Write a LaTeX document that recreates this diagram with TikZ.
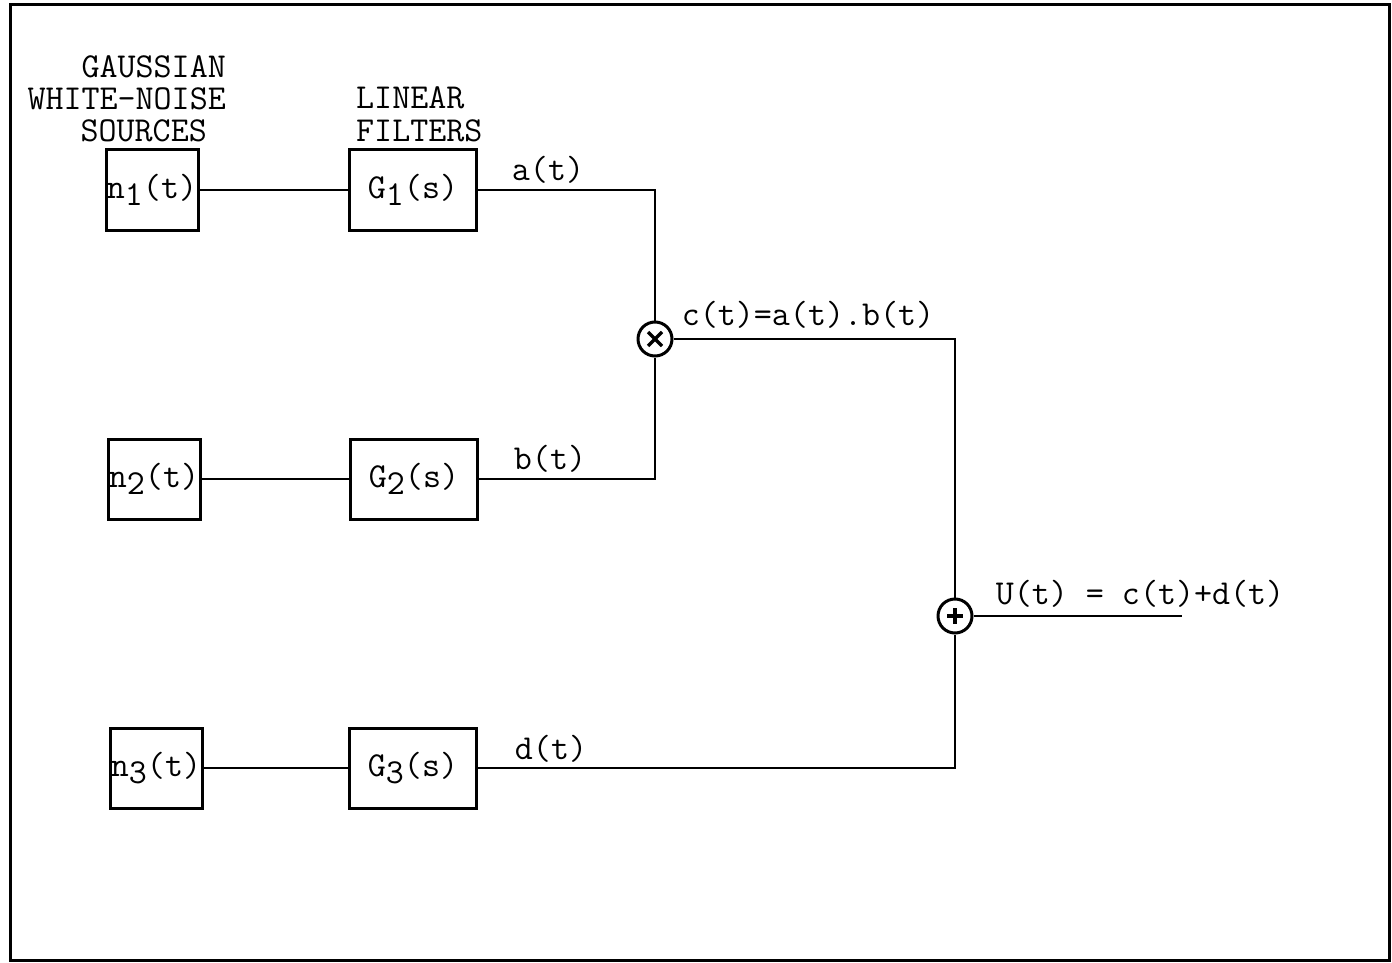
\documentclass[tikz,border=0pt]{standalone}
\usetikzlibrary{calc}
\begin{document}
\begin{tikzpicture}[x=1pt,y=-1pt,
  txt/.style={font=\ttfamily\fontsize{35}{40}\selectfont, inner sep=0pt},
  head/.style={txt, text height=21pt, text depth=0pt},
  blk/.style={draw, line width=3pt, minimum width=#1, inner sep=0pt},
  src/.style={blk=92pt, minimum height=80pt, font=\ttfamily\fontsize{35}{40}\selectfont},
  flt/.style={blk=127pt, minimum height=80pt, font=\ttfamily\fontsize{35}{40}\selectfont},
  wire/.style={line width=2.8pt},
  junc/.style={draw, circle, line width=3pt, minimum size=34pt, inner sep=0pt}]
\newcommand{\lowd}[1]{\raisebox{-0.45ex}{#1}}
\useasboundingbox (0,0) rectangle (1392,963);
% frame
\draw[line width=3pt] (10,5) rectangle (1389,960);
% headings
\node[head, anchor=east] (h1) at (226,67) {GAUSSIAN};
\node[head, anchor=east] (h2) at (226,99) {WHITE-NOISE};
\node[head, anchor=east] (h3) at (207,131) {SOURCES};
\node[head, anchor=west] (h4) at (356,98) {LINEAR};
\node[head, anchor=west] (h5) at (356,131) {FILTERS};
% sources
\node[src] (n1) at (152,190) {n\lowd{1}(t)};
\node[src] (n2) at (154,479) {n\lowd{2}(t)};
\node[src] (n3) at (156,768) {n\lowd{3}(t)};
% filters
\node[flt] (g1) at (413,190) {G\lowd{1}(s)};
\node[flt] (g2) at (414,479) {G\lowd{2}(s)};
\node[flt] (g3) at (413,768) {G\lowd{3}(s)};
% junctions
\node[junc] (mul) at (655,339) {};
\node[junc] (add) at (955,616) {};
\draw[line width=3.2pt] ($(mul.center)+(-7,-7)$) -- ($(mul.center)+(7,7)$)
  ($(mul.center)+(-7,7)$) -- ($(mul.center)+(7,-7)$);
\draw[line width=3.2pt] ($(add.center)+(-8,0)$) -- ($(add.center)+(8,0)$)
  ($(add.center)+(0,-8)$) -- ($(add.center)+(0,8)$);
\coordinate (out) at (1182,616);
% wires
\draw[wire] (n1) -- (g1);
\draw[wire] (n2) -- (g2);
\draw[wire] (n3) -- (g3);
\draw[wire] (g1.east) -| (mul.north);
\draw[wire] (g2.east) -| (mul.south);
\draw[wire] (mul.east) -| (add.north);
\draw[wire] (g3.east) -| (add.south);
\draw[wire] (add.east) -- (out);
% labels
\node[txt] (la) at (548,170) {a(t)};
\node[txt] (lb) at (550,459) {b(t)};
\node[txt] (ld) at (551,749) {d(t)};
\node[txt] (lc) at (808,315) {c(t)=a(t).b(t)};
\node[txt] (lu) at (1140,594) {U(t) = c(t)+d(t)};
\end{tikzpicture}
\end{document}
